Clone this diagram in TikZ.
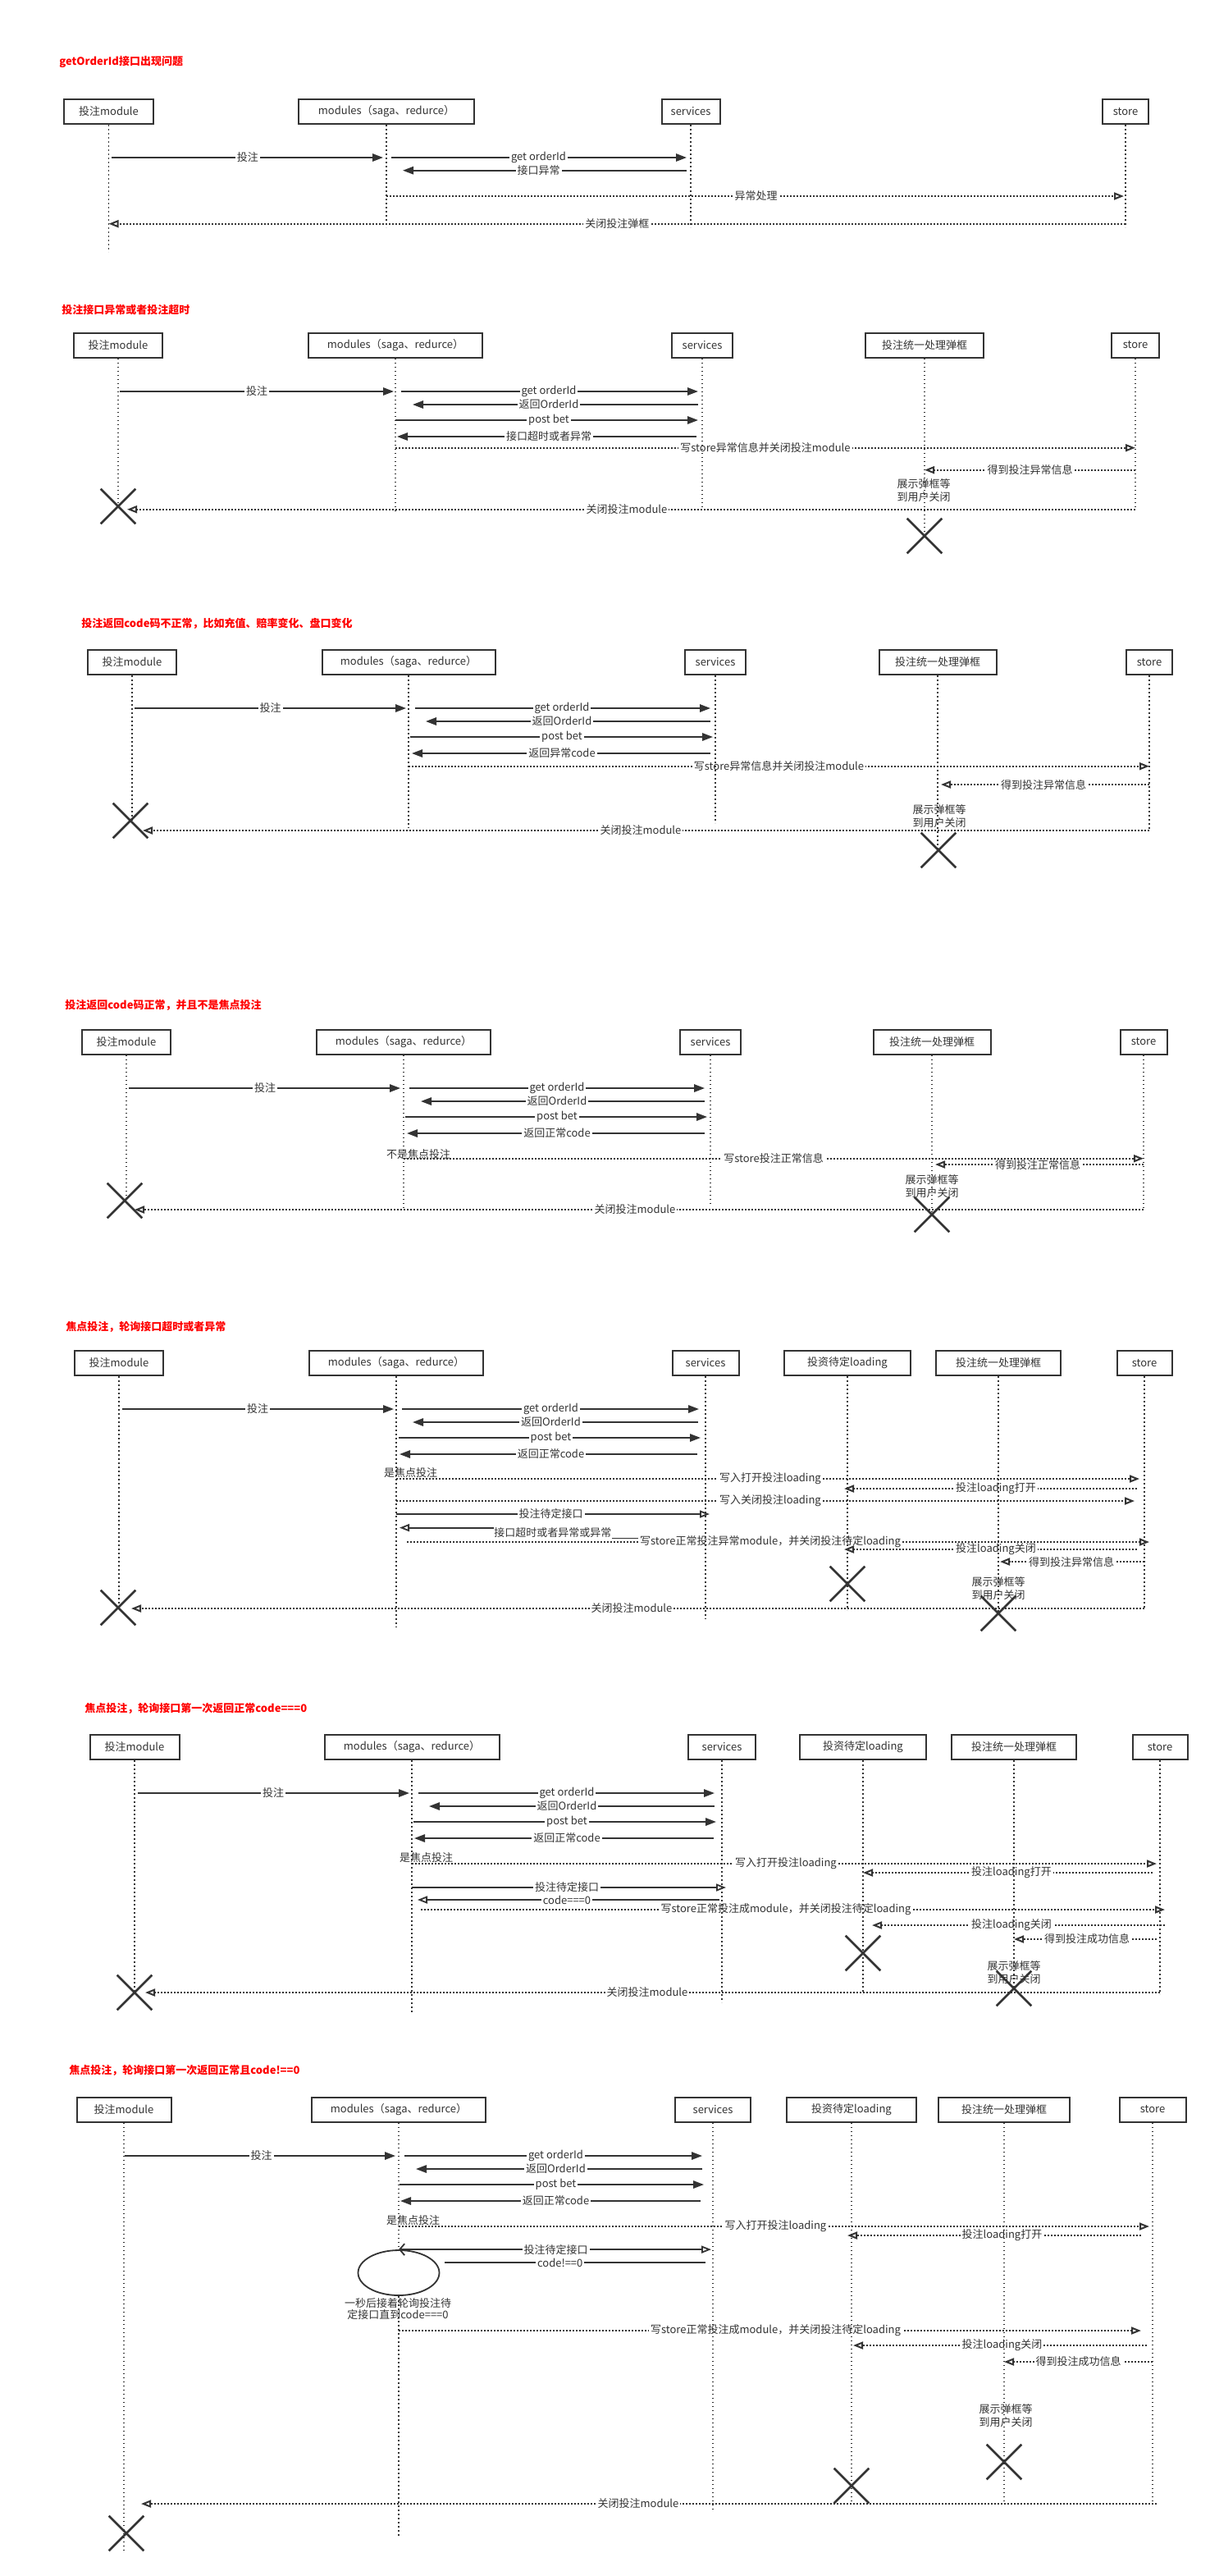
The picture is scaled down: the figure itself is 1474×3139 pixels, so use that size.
\documentclass[tikz,border=0pt]{standalone}
\usepackage{fontspec}
\setmainfont{Noto Sans CJK SC}
\usetikzlibrary{arrows.meta,shapes.misc,shapes.geometric}
\definecolor{ink}{HTML}{333333}
\colorlet{Hred}{red}
\newcommand{\seqfont}{\fontsize{6.5}{8}\selectfont}
\newcommand{\lifeline}[2]{
\draw[life] (#1.south) -- (#1 |- 0,#2);
}
\tikzset{
  actor/.style={draw=ink, line width=1pt, fill=white, minimum height=15pt, inner sep=1pt, text=ink},
  life/.style={draw=ink, line width=.7pt, dash pattern=on .9pt off 1.6pt},
  plain/.style={draw=ink, line width=.9pt},
  sync/.style={plain, -{Triangle[length=6.5pt,width=4.7pt]}},
  synco/.style={plain, -{Triangle[open,length=6pt,width=4.5pt]}},
  loopcall/.style={plain, {Straight Barb[length=3pt,width=7pt]}-{Triangle[open,length=6pt,width=4.5pt]}},
  async/.style={draw=ink, line width=1pt, dash pattern=on 1pt off 1pt, -{Triangle[open,length=6pt,width=4.5pt]}},
  lbl/.style={fill=white, inner xsep=1pt, inner ysep=0pt, text=ink},
  startlbl/.style={anchor=south west, inner sep=0pt, xshift=-8pt, text=ink},
  remark/.style={align=center, inner sep=0pt, text=ink},
  loop/.style={ellipse, draw=ink, line width=.9pt, fill=white, minimum width=49.5pt, minimum height=27.5pt, inner sep=0pt},
  xmark/.style={cross out, draw=ink, line width=1.3pt, minimum size=20pt, inner sep=0pt},
  heading/.style={anchor=west, inner sep=0pt, text=Hred, font=\seqfont\bfseries},
}

\begin{document}
\begin{tikzpicture}[x=.5pt, y=-.5pt, font=\seqfont]
\useasboundingbox (0,0) rectangle (1474,3139);

% getOrderId
\node[heading] (h1) at (72,75) {getOrderId接口出现问题};
\node[actor, minimum width=54.5pt] (s1a) at (132.5,136) {投注module};
\node[actor, minimum width=107pt] (s1b) at (471,136) {modules（saga、redurce）};
\node[actor, minimum width=35.5pt] (s1c) at (842,136) {services};
\node[actor, minimum width=28pt] (s1d) at (1372,136) {store};
\draw[sync, shorten <=1.75pt, shorten >=2pt] (s1a |- 0,192) -- node[lbl] {投注} (s1b |- 0,192);
\draw[sync, shorten <=3pt, shorten >=2.5pt] (s1b |- 0,192) -- node[lbl] {get orderId} (s1c |- 0,192);
\draw[sync, shorten <=2.5pt, shorten >=10pt] (s1c |- 0,207.7) -- node[lbl] {接口异常} (s1b |- 0,207.7);
\draw[async, shorten >=1pt] (s1b |- 0,239) -- node[lbl] {异常处理} (s1d |- 0,239);
\draw[async] (s1d |- 0,272.7) -- node[lbl] {关闭投注弹框} (s1a |- 0,272.7);
\lifeline{s1a}{307} \lifeline{s1b}{277} \lifeline{s1c}{277} \lifeline{s1d}{277}

% timeout
\node[heading] (h2) at (75,378) {投注接口异常或者投注超时};
\node[actor, minimum width=54pt] (s2a) at (144,420.5) {投注module};
\node[actor, minimum width=106pt] (s2b) at (482,420.5) {modules（saga、redurce）};
\node[actor, minimum width=37pt] (s2c) at (856,420.5) {services};
\node[actor, minimum width=72pt] (s2d) at (1127,420.5) {投注统一处理弹框};
\node[actor, minimum width=29pt] (s2e) at (1384,420.5) {store};
\draw[sync, shorten <=1pt, shorten >=1pt] (s2a |- 0,477) -- node[lbl] {投注} (s2b |- 0,477);
\draw[sync, shorten <=3.5pt, shorten >=2.5pt] (s2b |- 0,477) -- node[lbl] {get orderId} (s2c |- 0,477);
\draw[sync, shorten <=2.5pt, shorten >=10.5pt] (s2c |- 0,493) -- node[lbl] {返回OrderId} (s2b |- 0,493);
\draw[sync, shorten >=2.5pt] (s2b |- 0,512) -- node[lbl] {post bet} (s2c |- 0,512);
\draw[sync, shorten <=3.5pt, shorten >=1pt] (s2c |- 0,532) -- node[lbl] {接口超时或者异常} (s2b |- 0,532);
\draw[async] (s2b |- 0,545.7) -- node[lbl] {写store异常信息并关闭投注module} (s2e |- 0,545.7);
\draw[async] (s2e |- 0,572.7) -- node[lbl] {得到投注异常信息} (s2d |- 0,572.7);
\node[remark] (s2note) at (1126,597.5) {展示弹框等\\到用户关闭};
\draw[async, shorten >=5.5pt] (s2e |- 0,620.7) -- node[lbl] {关闭投注module} (s2a |- 0,620.7);
\node[xmark] (s2xa) at (144,617) {};
\node[xmark] (s2xd) at (1127,653) {};
\lifeline{s2a}{617} \lifeline{s2b}{622} \lifeline{s2c}{618} \lifeline{s2d}{653} \lifeline{s2e}{621}

% bad code
\node[heading] (h3) at (99,760) {投注返回code码不正常，比如充值、赔率变化、盘口变化};
\node[actor, minimum width=54pt] (s3a) at (161,807) {投注module};
\node[actor, minimum width=105.5pt] (s3b) at (498,807) {modules（saga、redurce）};
\node[actor, minimum width=37pt] (s3c) at (872,807) {services};
\node[actor, minimum width=71.5pt] (s3d) at (1143,807) {投注统一处理弹框};
\node[actor, minimum width=28pt] (s3e) at (1401,807) {store};
\draw[sync, shorten <=1.5pt, shorten >=1.5pt] (s3a |- 0,863) -- node[lbl] {投注} (s3b |- 0,863);
\draw[sync, shorten <=4pt, shorten >=3pt] (s3b |- 0,863) -- node[lbl] {get orderId} (s3c |- 0,863);
\draw[sync, shorten <=3pt, shorten >=10.5pt] (s3c |- 0,879) -- node[lbl] {返回OrderId} (s3b |- 0,879);
\draw[sync, shorten <=1pt, shorten >=1.5pt] (s3b |- 0,898) -- node[lbl] {post bet} (s3c |- 0,898);
\draw[sync, shorten <=3pt, shorten >=2pt] (s3c |- 0,918) -- node[lbl] {返回异常code} (s3b |- 0,918);
\draw[async] (s3b |- 0,933.7) -- node[lbl] {写store异常信息并关闭投注module} (s3e |- 0,933.7);
\draw[async, shorten >=2pt] (s3e |- 0,956) -- node[lbl] {得到投注异常信息} (s3d |- 0,956);
\node[remark] (s3note) at (1145,995) {展示弹框等\\到用户关闭};
\draw[async, shorten >=6.5pt] (s3e |- 0,1012) -- node[lbl] {关闭投注module} (s3a |- 0,1012);
\node[xmark] (s3xa) at (159,1000) {};
\node[xmark] (s3xd) at (1144,1036) {};
\lifeline{s3a}{1000} \lifeline{s3b}{1009} \lifeline{s3c}{1003} \lifeline{s3d}{1036} \lifeline{s3e}{1012}

% ok code, not focus
\node[heading] (h4) at (79,1225) {投注返回code码正常，并且不是焦点投注};
\node[actor, minimum width=54pt] (s4a) at (154,1269.5) {投注module};
\node[actor, minimum width=106pt] (s4b) at (492,1269.5) {modules（saga、redurce）};
\node[actor, minimum width=37pt] (s4c) at (866,1269.5) {services};
\node[actor, minimum width=71.5pt] (s4d) at (1136,1269.5) {投注统一处理弹框};
\node[actor, minimum width=28.5pt] (s4e) at (1394,1269.5) {store};
\draw[sync, shorten <=1.5pt, shorten >=2pt] (s4a |- 0,1326) -- node[lbl] {投注} (s4b |- 0,1326);
\draw[sync, shorten <=3.5pt, shorten >=3.5pt] (s4b |- 0,1326) -- node[lbl] {get orderId} (s4c |- 0,1326);
\draw[sync, shorten <=3.5pt, shorten >=10.5pt] (s4c |- 0,1342) -- node[lbl] {返回OrderId} (s4b |- 0,1342);
\draw[sync, shorten <=1pt, shorten >=2pt] (s4b |- 0,1361) -- node[lbl] {post bet} (s4c |- 0,1361);
\draw[sync, shorten <=3.5pt, shorten >=2pt] (s4c |- 0,1381) -- node[lbl] {返回正常code} (s4b |- 0,1381);
\draw[async] (s4b |- 0,1411.7) -- node[at start, startlbl, xshift=-3pt, yshift=-1pt] {不是焦点投注} node[lbl] {写store投注正常信息} (s4e |- 0,1411.7);
\draw[async, shorten >=2pt] (s4e |- 0,1419) -- node[lbl] {得到投注正常信息} (s4d |- 0,1419);
\node[remark] (s4note) at (1136,1445.5) {展示弹框等\\到用户关闭};
\draw[async, shorten >=5pt] (s4e |- 0,1474) -- node[lbl] {关闭投注module} (s4a |- 0,1474);
\node[xmark] (s4xa) at (152,1463) {};
\node[xmark] (s4xd) at (1136,1480) {};
\lifeline{s4a}{1463} \lifeline{s4b}{1473} \lifeline{s4c}{1467} \lifeline{s4d}{1480} \lifeline{s4e}{1474}

% focus, polling fails
\node[heading] (h5) at (80,1617) {焦点投注，轮询接口超时或者异常};
\node[actor, minimum width=54pt] (s5a) at (145,1661) {投注module};
\node[actor, minimum width=106pt] (s5b) at (483,1661) {modules（saga、redurce）};
\node[actor, minimum width=40.5pt] (s5c) at (860,1661) {services};
\node[actor, minimum width=77pt] (s5l) at (1033,1661) {投资待定loading};
\node[actor, minimum width=76pt] (s5d) at (1217,1661) {投注统一处理弹框};
\node[actor, minimum width=33.5pt] (s5e) at (1395,1661) {store};
\draw[sync, shorten <=2pt, shorten >=1.5pt] (s5a |- 0,1717) -- node[lbl] {投注} (s5b |- 0,1717);
\draw[sync, shorten <=3.5pt, shorten >=4pt] (s5b |- 0,1717) -- node[lbl] {get orderId} (s5c |- 0,1717);
\draw[sync, shorten <=4.5pt, shorten >=10pt] (s5c |- 0,1733) -- node[lbl] {返回OrderId} (s5b |- 0,1733);
\draw[sync, shorten <=1.5pt, shorten >=3pt] (s5b |- 0,1752) -- node[lbl] {post bet} (s5c |- 0,1752);
\draw[sync, shorten <=5pt, shorten >=2pt] (s5c |- 0,1772) -- node[lbl] {返回正常code} (s5b |- 0,1772);
\draw[async, shorten >=3pt] (s5b |- 0,1802) -- node[at start, startlbl] {是焦点投注} node[lbl] {写入打开投注loading} (s5e |- 0,1802);
\draw[async, shorten <=4.5pt, shorten >=-2pt] (s5e |- 0,1814) -- node[lbl] {投注loading打开} (s5l |- 0,1814);
\draw[async, shorten >=6pt] (s5b |- 0,1829) -- node[lbl] {写入关闭投注loading} (s5e |- 0,1829);
\draw[synco, shorten >=-2.5pt] (s5b |- 0,1845) -- node[lbl] {投注待定接口} (s5c |- 0,1845);
\node[anchor=west, inner sep=0pt, text=ink] (s5tmo) at (602,1868) {接口超时或者异常或异常};
\draw[synco, shorten >=2pt] (s5tmo.north west) -- (s5b |- s5tmo.north west);
\draw[plain] (s5tmo.south east) -- +(40,0);
\draw[async, shorten <=6.5pt, shorten >=-3pt] (s5b |- 0,1879) -- node[lbl] {写store正常投注异常module，并关闭投注待定loading} (s5e |- 0,1879);
\draw[async, shorten <=4.5pt, shorten >=-2pt] (s5e |- 0,1888) -- node[lbl] {投注loading关闭} (s5l |- 0,1888);
\draw[async, shorten >=1pt] (s5e |- 0,1903) -- node[lbl] {得到投注异常信息} (s5d |- 0,1903);
\node[remark] (s5note) at (1217,1935.5) {展示弹框等\\到用户关闭};
\draw[async, shorten >=7.5pt] (s5e |- 0,1960) -- node[lbl] {关闭投注module} (s5a |- 0,1960);
\node[xmark] (s5xa) at (144,1959) {};
\node[xmark] (s5xl) at (1033,1930) {};
\node[xmark] (s5xd) at (1217,1966) {};
\lifeline{s5a}{1959} \lifeline{s5b}{1983} \lifeline{s5c}{1973} \lifeline{s5l}{1962} \lifeline{s5d}{1966} \lifeline{s5e}{1960}

% focus, code===0
\node[heading] (h6) at (103,2082) {焦点投注，轮询接口第一次返回正常code===0};
\node[actor, minimum width=54.5pt] (s6a) at (164,2129) {投注module};
\node[actor, minimum width=106.5pt] (s6b) at (502,2129) {modules（saga、redurce）};
\node[actor, minimum width=41pt] (s6c) at (880,2129) {services};
\node[actor, minimum width=77pt] (s6l) at (1052,2129) {投资待定loading};
\node[actor, minimum width=76pt] (s6d) at (1236,2129) {投注统一处理弹框};
\node[actor, minimum width=33.5pt] (s6e) at (1414,2129) {store};
\draw[sync, shorten <=2pt, shorten >=1.5pt] (s6a |- 0,2185) -- node[lbl] {投注} (s6b |- 0,2185);
\draw[sync, shorten <=4pt, shorten >=4.5pt] (s6b |- 0,2185) -- node[lbl] {get orderId} (s6c |- 0,2185);
\draw[sync, shorten <=4.5pt, shorten >=10.5pt] (s6c |- 0,2201) -- node[lbl] {返回OrderId} (s6b |- 0,2201);
\draw[sync, shorten <=1pt, shorten >=3.5pt] (s6b |- 0,2220) -- node[lbl] {post bet} (s6c |- 0,2220);
\draw[sync, shorten <=5pt, shorten >=1.5pt] (s6c |- 0,2240) -- node[lbl] {返回正常code} (s6b |- 0,2240);
\draw[async, shorten >=2pt] (s6b |- 0,2271) -- node[at start, startlbl] {是焦点投注} node[lbl] {写入打开投注loading} (s6e |- 0,2271);
\draw[async, shorten <=4.5pt] (s6e |- 0,2282) -- node[lbl] {投注loading打开} (s6l |- 0,2282);
\draw[synco, shorten >=-2.5pt] (s6b |- 0,2300) -- node[lbl] {投注待定接口} (s6c |- 0,2300);
\draw[synco, shorten <=1.5pt, shorten >=3.5pt] (s6c |- 0,2315) -- node[lbl] {code===0} (s6b |- 0,2315);
\draw[async, shorten <=5.5pt, shorten >=-3pt] (s6b |- 0,2327) -- node[lbl] {写store正常投注成module，并关闭投注待定loading} (s6e |- 0,2327);
\draw[async, shorten <=-3pt, shorten >=5.5pt] (s6e |- 0,2346) -- node[lbl] {投注loading关闭} (s6l |- 0,2346);
\draw[async, shorten <=2pt] (s6e |- 0,2363) -- node[lbl] {得到投注成功信息} (s6d |- 0,2363);
\node[remark] (s6note) at (1236,2403.5) {展示弹框等\\到用户关闭};
\draw[async, shorten >=6.5pt] (s6e |- 0,2428) -- node[lbl] {关闭投注module} (s6a |- 0,2428);
\node[xmark] (s6xa) at (164,2428) {};
\node[xmark] (s6xl) at (1052,2380) {};
\node[xmark] (s6xd) at (1236,2423) {};
\lifeline{s6a}{2428} \lifeline{s6b}{2452} \lifeline{s6c}{2440} \lifeline{s6l}{2430} \lifeline{s6d}{2423} \lifeline{s6e}{2430}

% focus, code!==0
\node[heading] (h7) at (84,2523) {焦点投注，轮询接口第一次返回正常且code!==0};
\node[actor, minimum width=57.5pt] (s7a) at (151,2570.5) {投注module};
\node[actor, minimum width=106pt] (s7b) at (486,2570.5) {modules（saga、redurce）};
\node[actor, minimum width=46pt] (s7c) at (869,2570.5) {services};
\node[actor, minimum width=79pt] (s7l) at (1038,2570.5) {投资待定loading};
\node[actor, minimum width=80pt] (s7d) at (1224,2570.5) {投注统一处理弹框};
\node[actor, minimum width=40.5pt] (s7e) at (1405,2570.5) {store};
\draw[sync, shorten <=.5pt, shorten >=2pt] (s7a |- 0,2627) -- node[lbl] {投注} (s7b |- 0,2627);
\draw[sync, shorten <=3.5pt, shorten >=6.5pt] (s7b |- 0,2627) -- node[lbl] {get orderId} (s7c |- 0,2627);
\draw[sync, shorten <=6.5pt, shorten >=10.5pt] (s7c |- 0,2643) -- node[lbl] {返回OrderId} (s7b |- 0,2643);
\draw[sync, shorten <=.5pt, shorten >=5.5pt] (s7b |- 0,2662) -- node[lbl] {post bet} (s7c |- 0,2662);
\draw[sync, shorten <=7.5pt, shorten >=1pt] (s7c |- 0,2682) -- node[lbl] {返回正常code} (s7b |- 0,2682);
\draw[async, shorten >=2pt] (s7b |- 0,2713) -- node[at start, startlbl] {是焦点投注} node[lbl] {写入打开投注loading} (s7e |- 0,2713);
\draw[async, shorten <=7pt, shorten >=-2.5pt] (s7e |- 0,2724) -- node[lbl] {投注loading打开} (s7l |- 0,2724);
\node[loop] (s7loop) at (486,2769.5) {};
\draw[loopcall, shorten >=1pt] (s7loop.north) -- node[lbl] {投注待定接口} (s7c |- s7loop.north);
\draw[plain, shorten <=4.5pt, shorten >=2.75pt] (s7c |- 0,2757) -- node[lbl, pos=.56] {code!==0} (s7loop.east |- 0,2757);
\node[remark, font=\fontsize{6.5}{7}\selectfont] (s7wait) at (485,2814) {一秒后接着轮询投注待\\定接口直到code===0};
\draw[async, shorten >=7pt] (s7b |- 0,2840) -- node[lbl] {写store正常投注成module，并关闭投注待定loading} (s7e |- 0,2840);
\draw[async, shorten <=3.5pt, shorten >=1pt] (s7e |- 0,2858) -- node[lbl] {投注loading关闭} (s7l |- 0,2858);
\draw[async] (s7e |- 0,2878) -- node[lbl] {得到投注成功信息} (s7d |- 0,2878);
\node[remark] (s7note) at (1226,2944) {展示弹框等\\到用户关闭};
\draw[async, shorten <=-2.5pt, shorten >=10.5pt] (s7e |- 0,3051) -- node[lbl] {关闭投注module} (s7a |- 0,3051);
\node[xmark] (s7xa) at (154,3087) {};
\node[xmark] (s7xl) at (1038,3029) {};
\node[xmark] (s7xd) at (1224,3000) {};
\lifeline{s7a}{3107}
\draw[life] (s7b.south) -- (s7loop.north);
\draw[life] (s7loop.south) -- (s7b |- 0,3092);
\lifeline{s7c}{3057} \lifeline{s7l}{3049} \lifeline{s7d}{3049} \lifeline{s7e}{3051}
\end{tikzpicture}
\end{document}
